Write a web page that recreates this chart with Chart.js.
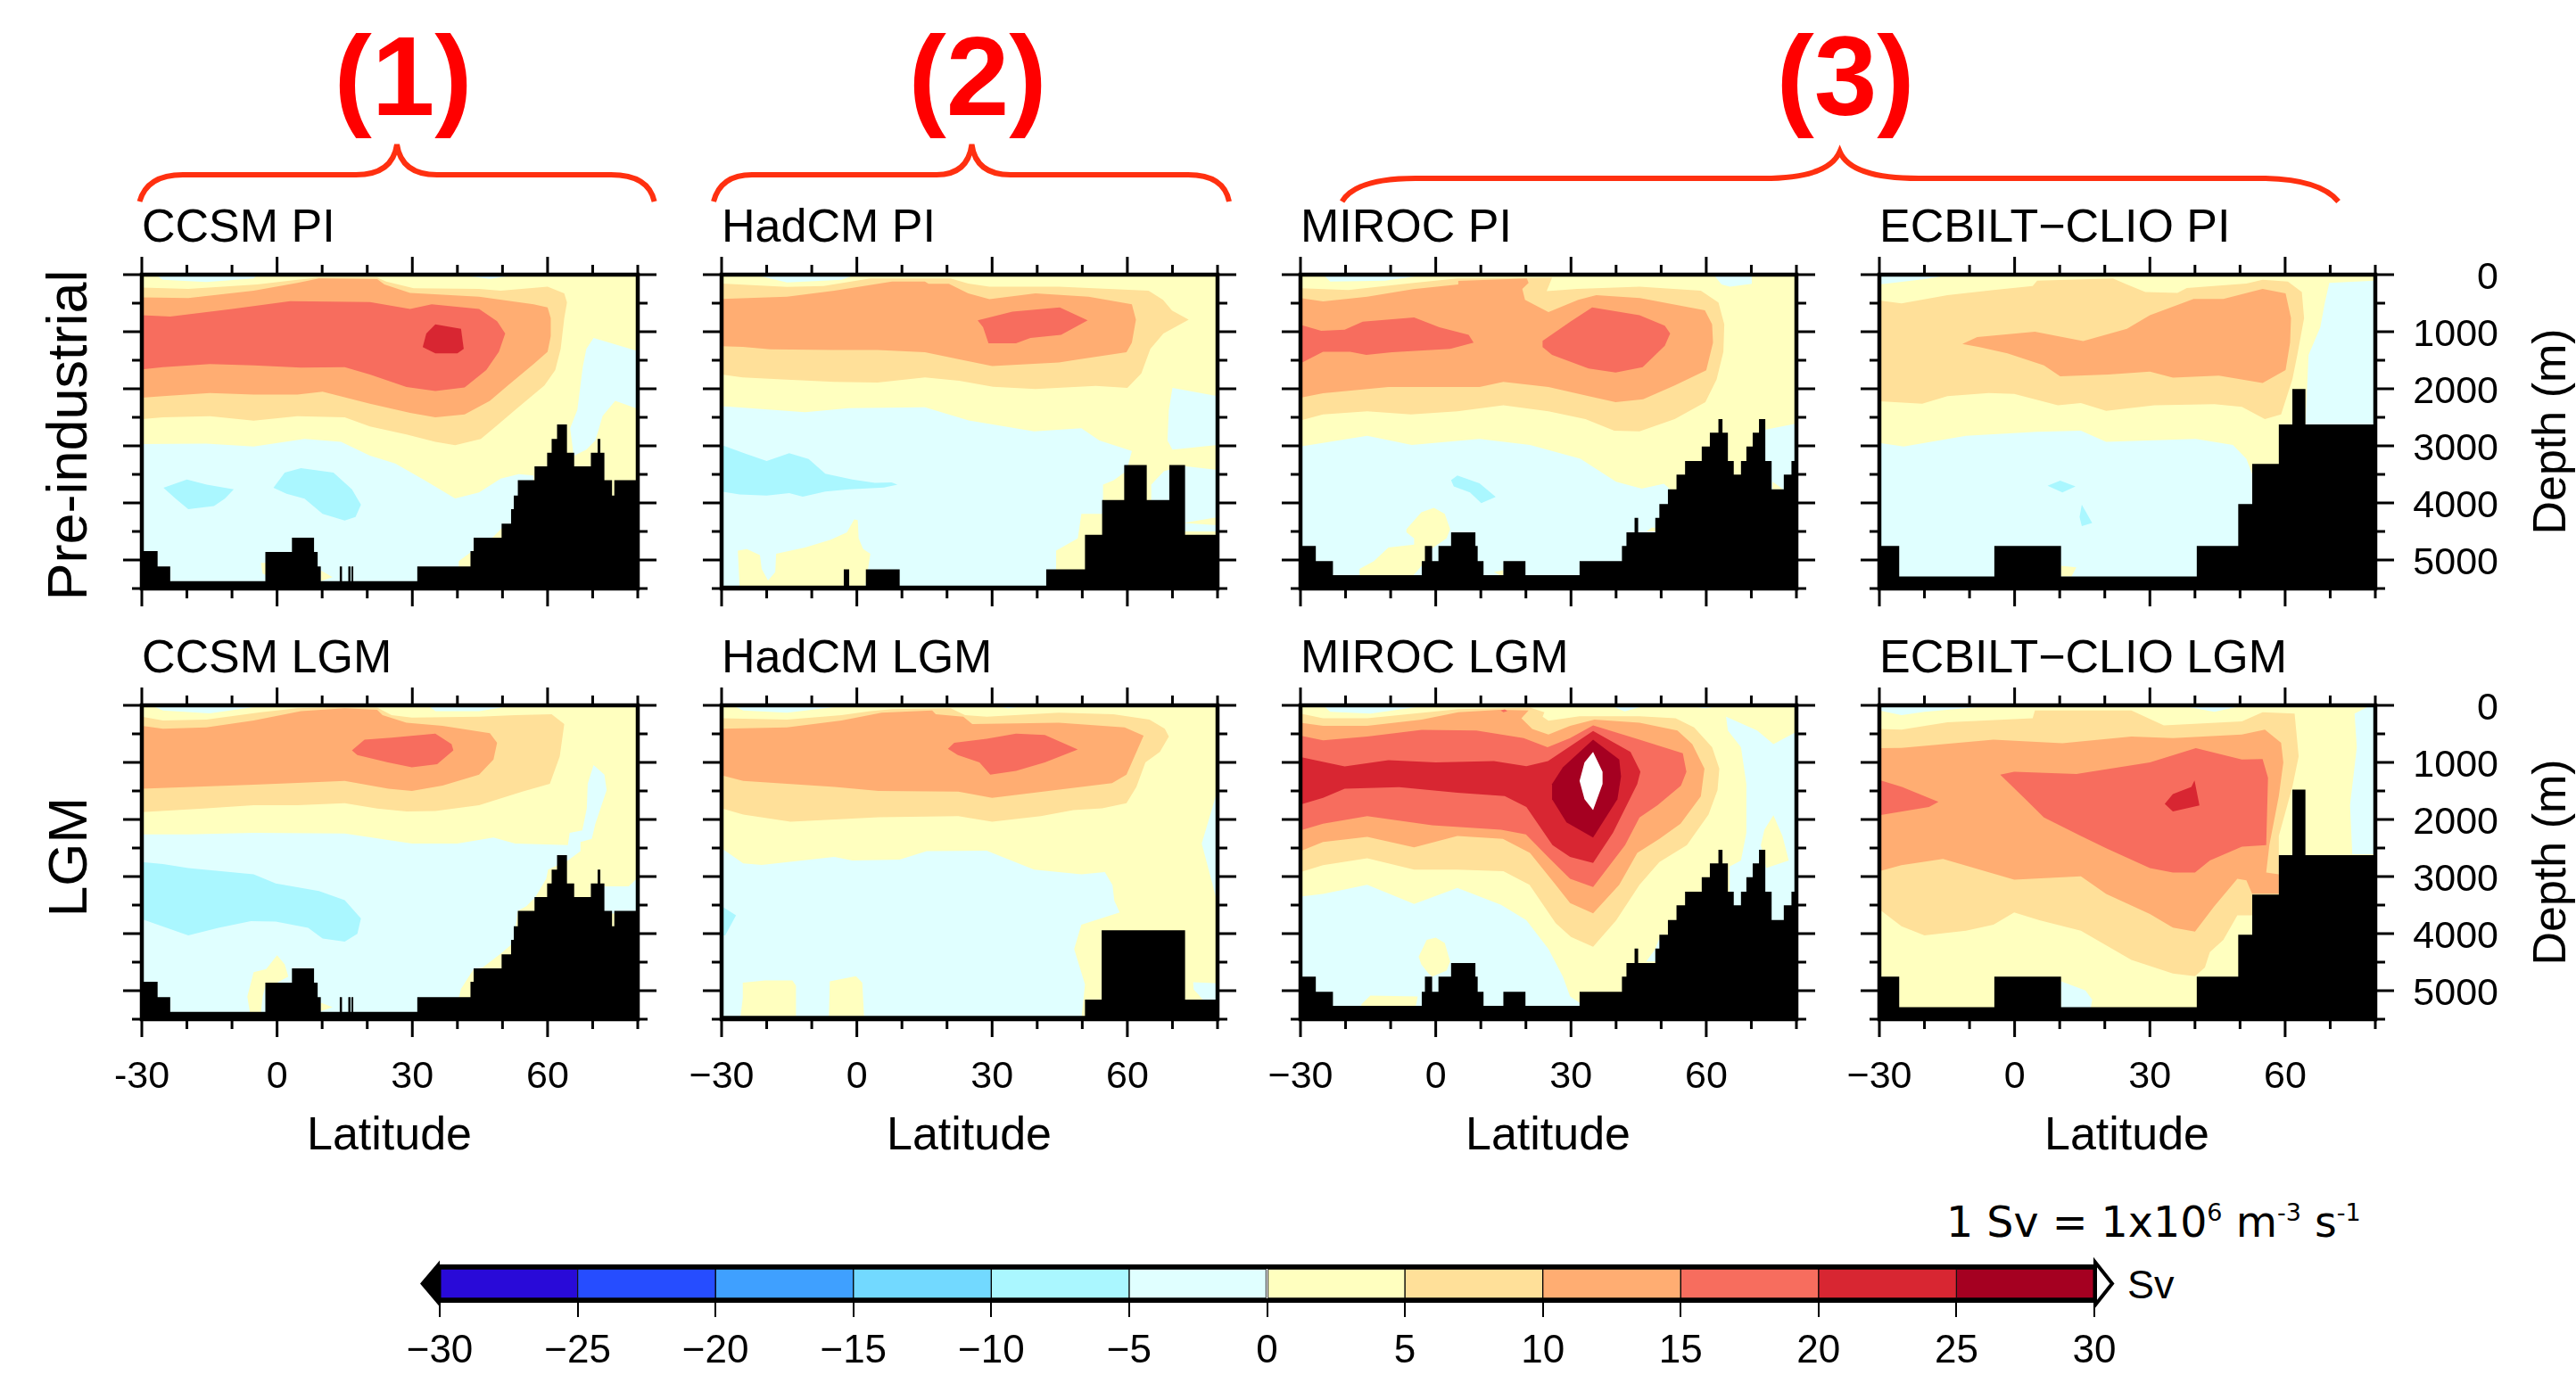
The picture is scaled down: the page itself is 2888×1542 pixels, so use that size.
<!DOCTYPE html>
<html>
<head>
<meta charset="UTF-8">
<title>Overturning streamfunction PI and LGM</title>
<script src="https://cdn.jsdelivr.net/npm/chart.js"></script>
<style>
  html, body { margin: 0; background: #fff; }
  body { position: relative; width: 2888px; height: 1542px; overflow: hidden; }
  svg, canvas { position: absolute; }
  text { font-family: "Liberation Sans", sans-serif; fill: #000; }
</style>
</head>
<body>
<svg id="notes" width="2888" height="1542" style="left:0;top:0"></svg>
<script>
// colour bands, keyed by lower bound in Sv
const bandLower = [-30, -25, -20, -15, -10, -5, 0, 5, 10, 15, 20, 25];
const bandColors = ['#290AD8', '#264DFF', '#3FA0FF', '#72D9FF', '#AAF7FF', '#E0FFFF',
                    '#FFFFBF', '#FFE099', '#FFAD72', '#F76D5E', '#D82632', '#A50021'];
const barTicks = [-30, -25, -20, -15, -10, -5, 0, 5, 10, 15, 20, 25, 30];

const latMajor = [-30, 0, 30, 60];
const latMinor = [-20, -10, 10, 20, 40, 50, 70, 80];
const depthMajor = [0, 1000, 2000, 3000, 4000, 5000];
const depthMinor = [500, 1500, 2500, 3500, 4500, 5500];

// sea floor: each depth holds from its latitude to the next one
const ccsmFloorLat = [-30,-26.5,-23.7,-2.6,3.3,8.2,9,9.7,13.9,14.4,15.8,16.3,16.5,16.9,31.1,42.9,43.6,49.8,51.9,52.5,53.4,57.1,59.9,60.9,62.1,64.3,65.9,69.6,71.1,71.7,72.6,74.3,74.8,80];
const ccsmFloorDepth = [4845,5115,5370,4860,4610,4860,5115,5370,5115,5370,5115,5370,5115,5370,5115,4845,4610,4365,4110,3870,3600,3360,3120,2880,2625,3120,3360,3120,2880,3120,3600,3870,3600,3600];
const hadPiFloorLat = [-30,-2.9,-1.7,2,9.5,42,50.6,54.4,59.3,64.3,69.3,72.8,80];
const hadPiFloorDepth = [5450,5165,5450,5165,5450,5165,4560,3950,3335,3950,3335,4560,4560];
const hadLgmFloorLat = [-30,50.6,54.3,72.8,80];
const hadLgmFloorDepth = [5440,5155,3940,5155,5155];
const mirocFloorLat = [-30,-26.6,-22.8,-3.1,-2.4,-0.8,0.6,3.4,8.8,9.3,10.6,15,19.9,31.9,41.3,42.3,44.1,44.9,48.7,49.6,51.5,53.4,55.3,59,60.8,62.7,63.6,64.8,66.1,67.7,68.9,70.3,71.7,73.1,74.5,77.2,78.9,80];
const mirocFloorDepth = [4755,5020,5265,5020,4755,5020,4755,4515,4755,5020,5265,5020,5265,5020,4755,4515,4260,4515,4260,4020,3760,3505,3265,3010,2770,2530,2770,3265,3505,3265,3010,2770,2530,3265,3760,3505,3265,3265];
const ecbiltFloorLat = [-30,-25.6,-4.5,10.3,40.4,49.6,52.7,58.6,61.6,64.5,80];
const ecbiltPiFloorDepth = [4755,5290,4755,5290,4755,4020,3315,2625,2005,2625,2625];
const ecbiltLgmFloorDepth = [4755,5290,4755,5290,4755,4020,3315,2625,1475,2625,2625];

// contour layers, painted in order: [lower bound, [lat, depth, lat, depth, ...]]
const ccsmPiLayers = [
  [-5, [-30,2970,-15.7,2960,-5.2,3010,6.1,2880,14.2,2930,20.6,3170,26.2,3310,32.7,3600,39.5,3920,44.8,3815,49.6,3575,53.6,3495,56.9,3520,56.9,4245,50,4430,48,4590,43.6,4830,40.3,5020,40.3,5130,36.7,5500,-30,5500]],
  [-5, [70.2,1110,80,1340,80,2350,75,2210,72.2,2475,70.6,2905,68.6,3065,65.8,3175,65,2690,66.6,2370,67.8,1620,68.6,1300]],
  [-5, [-27,0,-4.4,0,-5.2,65,-15.7,130,-25.3,90]],
  [-5, [40,0,53.6,0,47.2,75]],
  [-10, [-25.2,3735,-20,3590,-15.6,3680,-9.6,3760,-11.6,3925,-14,4055,-19.7,4110,-22.5,3925]],
  [-10, [-0.8,3735,1.7,3470,5.3,3390,12.5,3470,16.6,3760,18.6,4030,17.4,4245,15,4310,10.1,4190,6.1,3925,2.1,3840]],
  [0, [-3.6,5050,-2.4,5050,-2.4,5265,-3.2,5240]],
  [0, [9.7,5185,12.3,5300,9.7,5370]],
  [5, [-30,225,-19.7,250,-4.4,170,4.5,90,9.3,50,22.2,50,24.2,120,30.3,240,44.8,250,49.6,280,60,210,63.7,330,64.3,490,63.7,760,62.9,1300,61.7,1670,59.3,1940,52.8,2370,48.8,2640,45.2,2880,39.5,2990,35.1,2930,28.7,2800,20.6,2660,15,2500,4.5,2480,-5.2,2560,-14.9,2480,-25.3,2500,-30,2530]],
  [10, [-30,400,-19.7,410,-5.2,280,4.5,145,9.3,65,22.2,80,23.8,170,29.5,320,44.8,385,56.9,520,60,575,60.7,760,60.7,1080,60,1350,56.9,1565,51.2,1940,47.2,2210,41.6,2450,35.1,2500,29.5,2420,20.6,2260,10.1,2050,4.5,2100,-5.2,2100,-14.9,2075,-25.3,2130,-30,2155]],
  [15, [-30,710,-23.7,735,-10,600,2.9,465,20.6,480,29.5,600,34.3,520,44.8,600,48.8,815,50.6,1030,49.2,1350,46.4,1670,41.6,1975,35.1,2040,28.7,1970,20.6,1750,15,1620,5.3,1630,-5.2,1590,-14.9,1565,-25.3,1620,-30,1660]],
  [20, [35.1,870,40.8,950,41.4,1300,40,1380,35.1,1380,32.3,1270,33.1,1030]]
];
const hadPiLayers = [
  [-5, [-30,2305,-11.5,2410,-1.8,2340,15.1,2325,24.8,2555,39.3,2745,49.8,2690,53.8,2905,61,3090,59.8,3440,57,3600,54.6,3680,54.6,4190,49.8,4190,49,4620,44.2,4835,44.2,5155,41.8,5500,-30,5500]],
  [-5, [-22.8,0,-0.2,0,-3.4,90,-15.5,135]],
  [-5, [70,1985,80,2130,80,2985,70,3065,68.9,2905,69.2,2370]],
  [-5, [65.3,3680,68.1,3445,72.2,3350,80,3420,80,4500,65.3,4500]],
  [0, [72.4,4350,80,4250,80,4390]],
  [-10, [-30,2985,-25,3130,-20,3265,-15,3130,-10.7,3230,-7,3490,-1,3590,4,3650,7.7,3640,9,3680,6,3730,-1.7,3760,-7,3800,-12,3890,-15,3830,-20,3870,-26,3850,-30,3800]],
  [0, [-26.4,4835,-24.4,4810,-21.5,4915,-21.1,5155,-19.7,5360,-18.1,5210,-17.9,4890,-11.5,4780,-5.8,4645,-2.2,4515,-0.6,4290,0.2,4300,0.4,4620,1.4,4810,3,4890,1.8,5500,-26,5500]],
  [5, [-30,155,-15.5,215,-7.4,200,3,65,20.8,65,24.7,155,29.4,210,44.8,210,64.7,280,67.9,440,69.9,630,73.6,790,70.8,910,68,1030,65.1,1300,63.1,1730,60,1985,53,1950,39.6,2005,30.2,1965,22.7,1860,15.1,1800,4.6,1890,-5,1880,-15.5,1840,-25.3,1800,-30,1750]],
  [10, [-30,425,-15.5,385,-5,280,7.8,120,15.1,120,15.9,160,20.4,160,24.7,330,29.4,430,39.6,330,51.4,385,61,520,61.9,790,61,1190,59.8,1360,48.9,1490,44.8,1540,30,1600,22.5,1480,15.1,1360,4.6,1320,-5,1320,-19.2,1310,-25.3,1265,-30,1255]],
  [15, [26.8,800,34.5,650,45,575,51.2,800,45.3,1055,38.5,1110,35.3,1205,29.2,1205,28,920]]
];
const mirocPiLayers = [
  [-5, [-30,3010,-15.2,2825,-5.3,2985,9.7,2880,20.9,2985,32.1,3225,40,3630,45.7,3750,50.6,3665,52,3760,52,5500,-30,5500]],
  [-5, [-25,0,-1.7,0,-11.3,105,-23.4,120]],
  [-5, [61.6,0,70.1,0,70.1,160,65.3,210,63.4,170]],
  [-5, [73,2720,80,2610,80,3800,73,3800]],
  [0, [74.7,3630,77.1,3760,74.7,3760]],
  [0, [46.7,4500,47.9,4435,48.7,4435,48.7,4500]],
  [-10, [3.4,3600,4.8,3520,9.7,3655,13.3,3895,10.1,4005,7.6,3815,4,3710]],
  [0, [-6.5,4460,-3.2,4165,-0.4,4085,2,4190,3.2,4460,2.4,4620,-0.9,4800,-2,5000,-5.3,5300,-16.9,5300,-16.9,5155,-13.7,5020,-10.5,4780,-4.8,4730,-4.8,4620,-6.5,4515]],
  [0, [12.9,5210,15,5180,15,5300]],
  [5, [-30,240,-19.4,270,-4.9,145,4.8,65,25.8,55,24.6,290,31.4,250,45.2,210,58.8,280,62.7,490,64,870,63.8,1350,62.3,1835,59.8,2235,53,2530,45.2,2745,39.6,2735,33.2,2530,25,2395,15,2290,4.8,2395,-5.5,2450,-15.2,2395,-25,2450,-30,2555]],
  [10, [-30,410,-25,470,-15.2,385,-5,255,5,170,5,110,20.2,65,20.6,145,19.2,250,19.8,440,25,655,31.6,440,35.6,360,45.3,410,59.7,625,61.3,870,61.5,1190,60,1675,53,1940,46,2185,39.9,2235,33.9,2130,25,1970,15,1880,9.7,1970,-10.5,1970,-25,2080,-30,2155]],
  [15, [-30,880,-25.4,985,-20.2,965,-16.2,825,-4.8,750,0.8,920,7.3,1055,8.4,1190,3.2,1300,-9.7,1360,-15.4,1405,-19,1350,-25,1350,-30,1555]],
  [15, [23.7,1160,30,815,34.7,575,45.2,710,50.8,895,52,1030,50.8,1245,45.9,1620,39.9,1715,33.9,1645,25.8,1405,23.7,1270]]
];
const ecbiltPiLayers = [
  [-5, [-30,2950,-24.6,3010,-10.8,2825,5,2755,14.7,2735,20.3,2930,40.2,2880,48.4,2985,51.4,3225,52.7,3495,52.7,5500,-30,5500]],
  [-5, [69.8,145,80,105,80,2635,64.5,2635,65.2,1405,67.8,920,68.8,495]],
  [-5, [-30,0,-14,0,-20,80,-30,170]],
  [-10, [7.3,3700,10.1,3610,13.5,3710,10.6,3815]],
  [-10, [14.9,4030,17.2,4350,14.9,4405,14.4,4245]],
  [0, [10.3,5100,13.7,5130,12.6,5290,10.3,5290]],
  [5, [-30,455,-25.1,505,-14.9,360,-4.7,270,4,200,5,105,21.8,65,24.9,170,29,305,36.1,320,38.2,235,51.4,155,55,90,60.6,120,63.7,305,64.2,760,62.7,1405,61.6,1835,59.1,2450,55.5,2530,50.4,2315,44.3,2270,31,2290,20.3,2385,14.7,2250,9.6,2290,-0.1,2090,-5.7,2075,-14.9,2130,-20.5,2260,-30,2220]],
  [10, [-11.6,1215,-8.3,1095,4.5,1000,15.2,1165,24.9,950,30,710,39.7,425,46.3,425,55,250,60.1,330,61.3,760,61.1,1190,60.1,1670,55,1900,45.3,1770,35.1,1805,30,1700,20.8,1750,10.1,1780,6.5,1590,-1.6,1380,-7.8,1270]]
];
const ccsmLgmLayers = [
  [-5, [-30,2260,-19.7,2260,-5.2,2235,15,2245,29.9,2420,40,2420,48,2315,52.8,2420,64.5,2450,64.9,2235,67.7,2190,68.7,1805,68.9,1375,70.2,1045,72.6,1215,73.1,1485,70.6,2075,69.8,2340,67.3,2395,67.3,2555,64.5,2720,60.1,2880,59.7,3040,57.3,3360,55.3,3520,53.4,3600,52.4,4165,49.6,4350,45.6,4595,43.6,4620,40.8,4970,40.3,5130,31.9,5500,-30,5500]],
  [-5, [72.2,3170,78,3170,80,3020,80,3650,72.2,3650]],
  [-5, [-28,0,-2.4,0,-15,140,-25.3,90]],
  [-5, [33.5,0,52.8,0,44.8,100,35.1,100]],
  [-10, [-30,2745,-25.3,2780,-19.7,2850,-5.2,2960,-0.3,3120,9.3,3255,15,3415,18.6,3735,17.8,4005,15,4140,10.1,4085,6.9,3900,-0.3,3790,-5.8,3780,-13,3900,-19.7,4030,-24.5,3900,-30,3745]],
  [0, [-5.2,4675,-2.4,4620,0,4380,1.7,4540,2.5,4755,0,4860,-2.4,4860,-3.2,5100,-3.6,5400,-6,5400,-6.6,5100]],
  [0, [9.7,5210,12.3,5290,9.7,5360]],
  [5, [-30,200,-25.3,265,-15.7,250,-3.6,120,4.5,50,12.5,30,22.2,40,25.4,170,29.9,215,44.8,200,52.8,170,60.9,155,63.7,330,62.7,895,60.5,1375,54.4,1510,44.8,1750,35.1,1850,28.7,1860,22.2,1810,15,1715,4.5,1750,-5.2,1750,-16.4,1810,-30,1870]],
  [10, [-30,360,-25.3,410,-15.7,385,-5.2,265,5.3,100,15,50,22.2,80,23.4,170,28.7,305,36.7,360,47.2,490,48.8,655,48,950,44.8,1215,36.7,1405,29.9,1500,24.7,1460,15,1325,4.5,1360,-5.2,1390,-30,1460]],
  [15, [16.6,790,19.4,600,25.4,565,35.1,495,38.7,680,39.1,790,35.5,1030,29.9,1085,24.6,1000,17.8,870]]
];
const hadLgmLayers = [
  [-5, [-30,2505,-25.2,2770,-21.1,2795,-5,2655,-1,2720,9.5,2705,15.5,2555,28.8,2545,39.3,2880,49.8,2960,55,2920,56.7,3150,57.1,3420,58.3,3630,49.8,3845,48.2,4270,50.6,4890,49.8,5500,-30,5500]],
  [-5, [80,1485,76.5,2420,80,3470]],
  [-5, [74.6,4850,80,4870,80,5160,76.8,5160,74.7,4975]],
  [-5, [-27.6,0,-1.8,0,-15.5,130,-25.2,90]],
  [-5, [30,0,38.5,0,33.6,50]],
  [-10, [-30,3520,-26.8,3680,-29.2,4030,-30,4030]],
  [0, [-25.3,4860,-20.3,4820,-14.3,4820,-13.5,4915,-13.5,5450,-25.8,5450,-25.3,5130]],
  [0, [-6,4835,-0.2,4745,1.2,4860,1.6,5450,-6.2,5450]],
  [5, [-30,225,-15.5,250,-3.4,170,3,100,7.8,65,20.8,50,24,170,28.8,200,44.8,130,56.9,155,64.9,250,68.3,410,69.2,545,67.2,815,64,1000,62,1430,59.8,1715,54.4,1805,48,1835,40.8,1940,30,2040,22.5,1940,4.8,1960,-14.7,2040,-25.2,1915,-30,1805]],
  [10, [-30,410,-15.5,385,-3.4,265,5.5,130,16.7,90,17.5,155,23.6,200,25.6,330,44.8,305,59.4,385,63.6,530,59.8,1215,56.6,1365,41.3,1510,30,1620,22.5,1510,4.8,1500,-4.9,1430,-25.2,1325,-30,1225]],
  [15, [20.2,760,21.6,655,28.8,585,35.3,495,41.7,520,49,775,41.7,1000,35.3,1150,29.6,1215,27.2,1000,22.4,870]]
];
const mirocLgmLayers = [
  [-5, [-30,3350,-25,3305,-15.2,3145,-4.8,3480,4.8,3200,14.5,3495,20.1,3765,25,4270,28.2,4755,29.8,5100,31.9,5210,31.9,5500,-30,5500]],
  [-5, [46.7,4490,48.7,4270,50,4000,50,4490]],
  [-5, [64.4,200,71.3,440,74.9,680,80,465,80,4490,65.2,4490,65.2,2825,67.7,2720,68.9,2235,68.9,1380,67.7,735,64.8,440]],
  [-5, [-25,0,-1.6,0,-14.5,145,-23.4,115]],
  [-5, [38.6,0,46.7,0,41.9,105]],
  [-5, [55.6,0,64.4,0,59.6,50]],
  [0, [74.9,1925,76.9,2290,78.3,2720,73.3,2850,72.1,2450,72.9,2180]],
  [0, [-3.8,4405,-2,4110,0,4070,2,4165,3.2,4490,2.4,4650,-0.8,4755,-1.6,4700,-3.2,4540]],
  [0, [-16.5,5240,-14.5,5085,-4,5100,-4.4,5265,-16.5,5265]],
  [5, [-30,145,-25,225,-15.2,225,-4.8,145,5,65,20.9,40,24.1,120,23.7,200,25,270,31.9,190,45.2,190,53.2,225,57.3,385,61.3,735,62.9,1110,62.5,1485,60.5,1915,55.7,2450,49.6,2745,45.2,3145,40,3770,34.9,4230,30,4060,26.6,3815,20.8,3145,15,2905,4.8,2880,-4.8,2880,-15.2,2680,-25,2800,-30,2920]],
  [10, [-30,305,-25,360,-15.2,360,-3.1,250,5,120,14.2,80,20.6,90,19,225,21.4,415,25,510,29.8,360,35.2,250,45.2,305,53.6,440,56.9,680,59.6,1110,58.8,1595,54.3,2075,49.6,2340,44.7,2585,40.7,3145,34.9,3645,29.8,3465,26.6,3145,20.9,2585,14.9,2340,4.8,2290,-4.8,2490,-15.2,2305,-25,2395,-30,2555]],
  [15, [14.4,90,15.3,70,15.9,100,15,120]],
  [15, [-30,530,-25,615,-15.2,545,-3.1,430,9,440,19.5,575,24.8,735,29.8,575,34.9,350,45.2,600,54.8,840,55.6,1165,54.4,1405,49.2,1750,45.2,1965,42,2450,34.9,3185,29.8,3040,25,2665,20,2260,14.5,2180,-0.8,2100,-15.2,1940,-25,2075,-30,2190]],
  [20, [-30,905,-20.2,1070,-10.5,960,0,1000,12.9,975,20.1,1065,24.9,975,34.9,450,43.2,815,45.4,1165,44.7,1380,39.3,2235,34.9,2760,29.8,2655,25.9,2450,20.1,1780,15.3,1590,4.8,1530,-8.1,1435,-20.2,1460,-25,1620,-30,1740]],
  [25, [34.9,600,40.7,950,41.1,1245,40.3,1645,34.9,2315,29,2050,25.8,1645,25.8,1380,28.2,1085]],
  [30, [34.9,815,37,1165,37,1380,34.9,1835,33,1645,31.9,1325,33,1000]]
];
const ecbiltLgmLayers = [
  [-5, [-30,0,-3.7,0,-20,115,-25.1,170,-30,90]],
  [-5, [36.6,0,50.9,0,44.3,115]],
  [-5, [79,0,80,0,80,2610,74.9,2610,74.4,1750,75.9,735,75.4,145]],
  [-5, [10.3,4835,15.7,4995,17.2,5155,16.9,5300,10.3,5300]],
  [5, [-30,415,-25.1,425,-14.9,295,4,225,4.5,90,25.9,90,33.1,350,50.4,280,55,120,62.1,145,63,895,61.6,1430,58.6,2290,58.6,3305,52.7,3305,52.7,3680,49.4,3680,46.3,4110,43.3,4325,42.2,4595,40,4745,35.1,4700,25.9,4460,14.7,3950,5.5,3765,-0.1,3630,-4.7,3845,-10.8,3950,-20,4030,-25.1,3870,-30,3575]],
  [10, [-30,750,-25.1,745,-4.7,600,10.6,665,25.9,545,35.1,575,50.4,510,55.5,425,59.1,655,59.6,1000,58.6,1590,56.5,2450,55.8,2930,58.6,2960,58.6,3305,52.7,3305,51.4,3065,49.4,3040,44.3,3520,40,3965,35.1,3895,30,3655,20.3,3305,14.7,2995,-0.1,3055,-15.9,2690,-25.1,2800,-30,2905]],
  [15, [-30,1310,-25,1430,-16.9,1690,-19,1780,-30,1925]],
  [15, [-3.2,1215,-0.1,1165,13.7,1205,30,1000,40.2,750,50.4,950,55,940,56.2,1270,55.8,2450,50.4,2475,43.3,2720,40,2930,35.1,2930,30,2850,20.3,2505,14.7,2290,6.5,1965,2.4,1645]],
  [20, [39.9,1315,41,1755,35.1,1860,33.3,1725,35.1,1555,39.2,1430]]
];

const panelNames = ['CCSM PI','HadCM PI','MIROC PI','ECBILT\u2212CLIO PI','CCSM LGM','HadCM LGM','MIROC LGM','ECBILT\u2212CLIO LGM'];
const panelLayers = [ccsmPiLayers, hadPiLayers, mirocPiLayers, ecbiltPiLayers, ccsmLgmLayers, hadLgmLayers, mirocLgmLayers, ecbiltLgmLayers];
const floorLats = [ccsmFloorLat, hadPiFloorLat, mirocFloorLat, ecbiltFloorLat, ccsmFloorLat, hadLgmFloorLat, mirocFloorLat, ecbiltFloorLat];
const floorDepths = [ccsmFloorDepth, hadPiFloorDepth, mirocFloorDepth, ecbiltPiFloorDepth, ccsmFloorDepth, hadLgmFloorDepth, mirocFloorDepth, ecbiltLgmFloorDepth];

// page layout
const colLeft = [159, 809, 1458, 2107];
const rowTop = [308, 791];
const plotW = 556, plotH = 352;
const padL = 60, padT = 30, padB = 130;

function bandColor(level) {
  const i = bandLower.indexOf(level);
  return i < 0 ? '#ffffff' : bandColors[i];
}

function polygon(flat, color) {
  const pts = [];
  for (let i = 0; i < flat.length; i += 2) pts.push({x: flat[i], y: flat[i + 1]});
  return {data: pts, showLine: true, fill: 'shape', backgroundColor: color, borderWidth: 0, pointRadius: 0};
}

// GMT style frame with ticks on all four sides
const frameTicks = {
  id: 'frameTicks',
  afterDatasetsDraw(chart) {
    const {ctx, chartArea: a, scales: {x, y}} = chart;
    ctx.save();
    ctx.strokeStyle = '#000';
    ctx.lineWidth = 3;
    ctx.beginPath();
    const xt = (v, len) => {
      const p = x.getPixelForValue(v);
      ctx.moveTo(p, a.top - len); ctx.lineTo(p, a.top);
      ctx.moveTo(p, a.bottom); ctx.lineTo(p, a.bottom + len);
    };
    const yt = (v, len) => {
      const p = y.getPixelForValue(v);
      ctx.moveTo(a.left - len, p); ctx.lineTo(a.left, p);
      ctx.moveTo(a.right, p); ctx.lineTo(a.right + len, p);
    };
    latMajor.forEach(v => xt(v, 20));
    latMinor.forEach(v => xt(v, 11));
    depthMajor.forEach(v => yt(v, 21));
    depthMinor.forEach(v => yt(v, 11));
    ctx.stroke();
    ctx.lineWidth = 4.5;
    ctx.strokeRect(a.left, a.top, a.right - a.left, a.bottom - a.top);
    ctx.restore();
  }
};

function drawPanel(i) {
  const col = i % 4, row = i < 4 ? 0 : 1;
  // far-aligned labels sit on the canvas edge, so this sets where the depth labels end
  const padR = col === 3 ? 138 : 30;
  const canvas = document.createElement('canvas');
  canvas.width = padL + plotW + padR;
  canvas.height = padT + plotH + padB;
  canvas.style.left = (colLeft[col] - padL) + 'px';
  canvas.style.top = (rowTop[row] - padT) + 'px';
  document.body.appendChild(canvas);

  const floorPts = floorLats[i].map((lat, k) => ({x: lat, y: floorDepths[i][k]}));
  const datasets = [polygon([-30, 0, 80, 0, 80, 5500, -30, 5500], bandColor(0))];
  panelLayers[i].forEach(l => datasets.push(polygon(l[1], bandColor(l[0]))));
  datasets.push({data: floorPts, showLine: true, stepped: true, fill: {value: 5500},
    backgroundColor: '#000', borderWidth: 0, pointRadius: 0});
  // chart.js paints the first dataset last
  datasets.forEach((d, k) => { d.order = datasets.length - k; });

  new Chart(canvas, {
    type: 'scatter',
    data: {datasets: datasets},
    plugins: [frameTicks],
    options: {
      responsive: false,
      animation: false,
      layout: {padding: {left: padL, top: padT, right: 0, bottom: 0}},
      plugins: {legend: {display: false}, tooltip: {enabled: false}},
      scales: {
        x: {
          type: 'linear', min: -30, max: 80,
          grid: {display: false}, border: {display: false},
          afterBuildTicks(s) { s.ticks = latMajor.map(v => ({value: v})); },
          afterFit(s) { s.height = padB; s.paddingLeft = 0; s.paddingRight = 0; },
          ticks: {
            display: row === 1, autoSkip: false, maxRotation: 0, padding: 31,
            color: '#000', font: {family: 'Liberation Sans', size: 43},
            callback: v => v < 0 ? (i === 4 ? '-' : '\u2212') + Math.abs(v) : String(v)
          }
        },
        y: {
          type: 'linear', position: 'right', reverse: true, min: 0, max: 5500,
          grid: {display: false}, border: {display: false},
          afterBuildTicks(s) { s.ticks = depthMajor.map(v => ({value: v})); },
          afterFit(s) { s.width = padR; s.paddingTop = 0; s.paddingBottom = 0; },
          ticks: {
            display: col === 3, autoSkip: false, padding: 5, crossAlign: 'far', labelOffset: 4,
            color: '#000', font: {family: 'Liberation Sans', size: 43},
            callback: v => String(v)
          }
        }
      }
    }
  });
}

for (let i = 0; i < 8; i++) drawPanel(i);

// colour bar
const barFrame = {
  id: 'barFrame',
  afterDatasetsDraw(chart) {
    const {ctx, chartArea: a} = chart;
    const mid = (a.top + a.bottom) / 2;
    ctx.save();
    ctx.lineWidth = 5;
    ctx.strokeStyle = '#000';
    ctx.strokeRect(a.left - 1, a.top - 2.5, a.right - a.left + 2, a.bottom - a.top + 5);
    ctx.fillStyle = '#000';
    ctx.beginPath();
    ctx.moveTo(a.left, mid - 26); ctx.lineTo(a.left - 22, mid); ctx.lineTo(a.left, mid + 26);
    ctx.closePath(); ctx.fill();
    ctx.fillStyle = '#fff';
    ctx.lineWidth = 4;
    ctx.beginPath();
    ctx.moveTo(a.right + 1, mid - 24); ctx.lineTo(a.right + 20, mid); ctx.lineTo(a.right + 1, mid + 24);
    ctx.closePath(); ctx.fill(); ctx.stroke();
    ctx.restore();
  }
};

const barCanvas = document.createElement('canvas');
barCanvas.width = 2000;
barCanvas.height = 142;
barCanvas.style.left = '440px';
barCanvas.style.top = '1400px';
document.body.appendChild(barCanvas);
new Chart(barCanvas, {
  type: 'bar',
  data: {
    labels: ['Sv'],
    datasets: bandLower.map((lo, k) => ({
      data: [[lo, barTicks[k + 1]]],
      backgroundColor: bandColors[k],
      borderColor: '#000', borderWidth: 1, borderSkipped: false,
      barPercentage: 1, categoryPercentage: 1, grouped: false
    }))
  },
  plugins: [barFrame],
  options: {
    indexAxis: 'y',
    responsive: false,
    animation: false,
    layout: {padding: {left: 53, top: 23, right: 92, bottom: 0}},
    plugins: {legend: {display: false}, tooltip: {enabled: false}},
    scales: {
      y: {display: false},
      x: {
        type: 'linear', min: -30, max: 30,
        border: {display: false},
        grid: {drawOnChartArea: false, drawTicks: true, tickLength: 21, tickColor: '#000', lineWidth: 2},
        afterBuildTicks(s) { s.ticks = barTicks.map(v => ({value: v})); },
        afterFit(s) { s.height = 86; s.paddingLeft = 0; s.paddingRight = 0; },
        ticks: {
          autoSkip: false, maxRotation: 0, padding: 12, color: '#000',
          font: {family: 'Liberation Sans', size: 44},
          callback: v => v < 0 ? '\u2212' + Math.abs(v) : String(v)
        }
      }
    }
  }
});

// text and braces round the charts
const svg = document.getElementById('notes');
function addSvg(name, attrs, body) {
  const el = document.createElementNS('http://www.w3.org/2000/svg', name);
  Object.keys(attrs).forEach(k => el.setAttribute(k, attrs[k]));
  if (body) el.innerHTML = body;
  svg.appendChild(el);
  return el;
}

panelNames.forEach((name, i) => {
  addSvg('text', {x: colLeft[i % 4], y: i < 4 ? 271 : 754, 'font-size': 52}, name);
});
colLeft.forEach(x => addSvg('text', {x: x + plotW / 2 - 0.5, y: 1289, 'font-size': 52, 'text-anchor': 'middle'}, 'Latitude'));
rowTop.forEach(y => addSvg('text', {'font-size': 52, 'text-anchor': 'middle',
  transform: 'translate(2876 ' + (y + plotH / 2) + ') rotate(-90)'}, 'Depth (m)'));
addSvg('text', {'font-size': 63, 'text-anchor': 'middle', transform: 'translate(97 488) rotate(-90)'}, 'Pre-industrial');
addSvg('text', {'font-size': 62, 'text-anchor': 'middle', transform: 'translate(97 961) rotate(-90)'}, 'LGM');

[['(1)', 452], ['(2)', 1096], ['(3)', 2069]].forEach(t => {
  addSvg('text', {x: t[1], y: 129, 'font-size': 127, 'font-weight': 'bold', 'text-anchor': 'middle', style: 'fill:#ff0000'}, t[0]);
});
['M156.5 226 Q165 196 205 196 L399 196 Q440 196 445 162 Q450 196 490 196 L685 196 Q727 196 733.6 226',
 'M800 226 Q808 196 843 196 L1050 196 Q1085 196 1089.5 162 Q1094 196 1133 196 L1332 196 Q1372 196 1378 226',
 'M1504.6 226 Q1520 200 1587 200 L1977 200 Q2050 200 2062.6 170 Q2075 200 2151 200 L2533 200 Q2600 200 2621.6 226'
].forEach(d => addSvg('path', {d: d, fill: 'none', stroke: '#ff3010', 'stroke-width': 6}));

addSvg('text', {x: 2385, y: 1456, 'font-size': 45}, 'Sv');
addSvg('text', {x: 2182, y: 1387, 'font-size': 47.5, style: 'font-family:"DejaVu Sans"'},
  '1 Sv = 1x10<tspan font-size="27" dy="-18">6</tspan><tspan dy="18"> m</tspan><tspan font-size="27" dy="-18">-3</tspan><tspan dy="18"> s</tspan><tspan font-size="27" dy="-18">-1</tspan>');
</script>
</body>
</html>
